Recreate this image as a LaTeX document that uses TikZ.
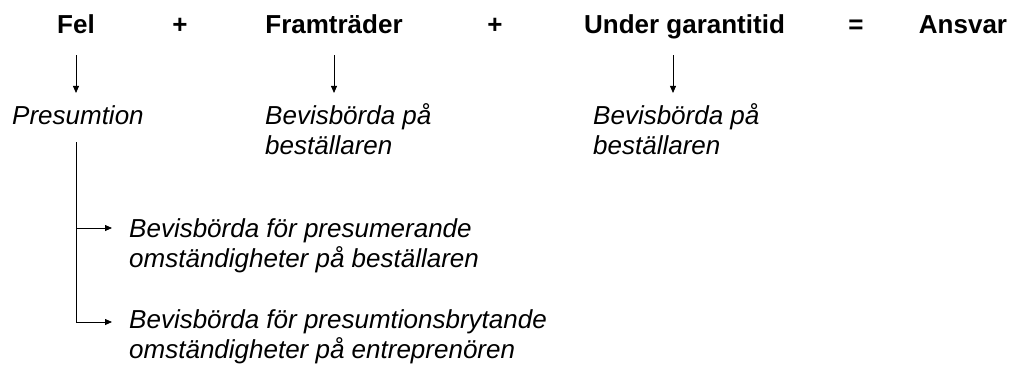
\documentclass[tikz,border=0pt]{standalone}
\usepackage{fontspec}
\setmainfont{Liberation Sans}
\usetikzlibrary{arrows.meta}
\newcommand{\bigfont}{\fontsize{26}{30}\selectfont}
\begin{document}
\begin{tikzpicture}[x=1pt,y=-1pt,
    arr/.style={-{Triangle[length=7pt,width=6pt]},line width=0.8pt}]
  \useasboundingbox (0,0) rectangle (1016,367);

  \begin{scope}[every node/.style={anchor=base,inner sep=0pt,font=\bigfont\bfseries}]
    \node (fel)    at (76,33)    {Fel};
    \node (plus1)  at (180,33)   {+};
    \node (fram)   at (334,33)   {Framträder};
    \node (plus2)  at (495,33)   {+};
    \node (under)  at (684.5,33) {Under garantitid};
    \node (eq)     at (856,33)   {=};
    \node (ansvar) at (963,33)   {Ansvar};
  \end{scope}

  % base of a two-line node = baseline of its last line
  \begin{scope}[every node/.style={anchor=base west,inner sep=0pt,align=left,font=\bigfont\itshape}]
    \node (pres) at (12,124)  {Presumtion};
    \node (bev1) at (265,154) {Bevisbörda på\\beställaren};
    \node (bev2) at (593,154) {Bevisbörda på\\beställaren};
    \node (sub1) at (129,267) {Bevisbörda för presumerande\\omständigheter på beställaren};
    \node (sub2) at (129,358) {Bevisbörda för presumtionsbrytande\\omständigheter på entreprenören};
  \end{scope}

  \begin{scope}[shorten <=22pt,shorten >=12pt]
    \draw[arr] (fel.base) -- (fel.base |- pres.north);
    \draw[arr] (fram.base) -- (fram.base |- pres.north);
    \draw[arr] ([xshift=-11.5pt]under.base) -- ([xshift=-11.5pt]under.base |- pres.north);
  \end{scope}

  \coordinate (trunk) at ([yshift=-18pt]pres.base -| fel.base);
  \draw[arr,shorten >=17pt] (trunk) |- ([yshift=39pt]sub1.base west);
  \draw[arr,shorten >=17pt] (trunk) |- ([yshift=36pt]sub2.base west);

\end{tikzpicture}
\end{document}
